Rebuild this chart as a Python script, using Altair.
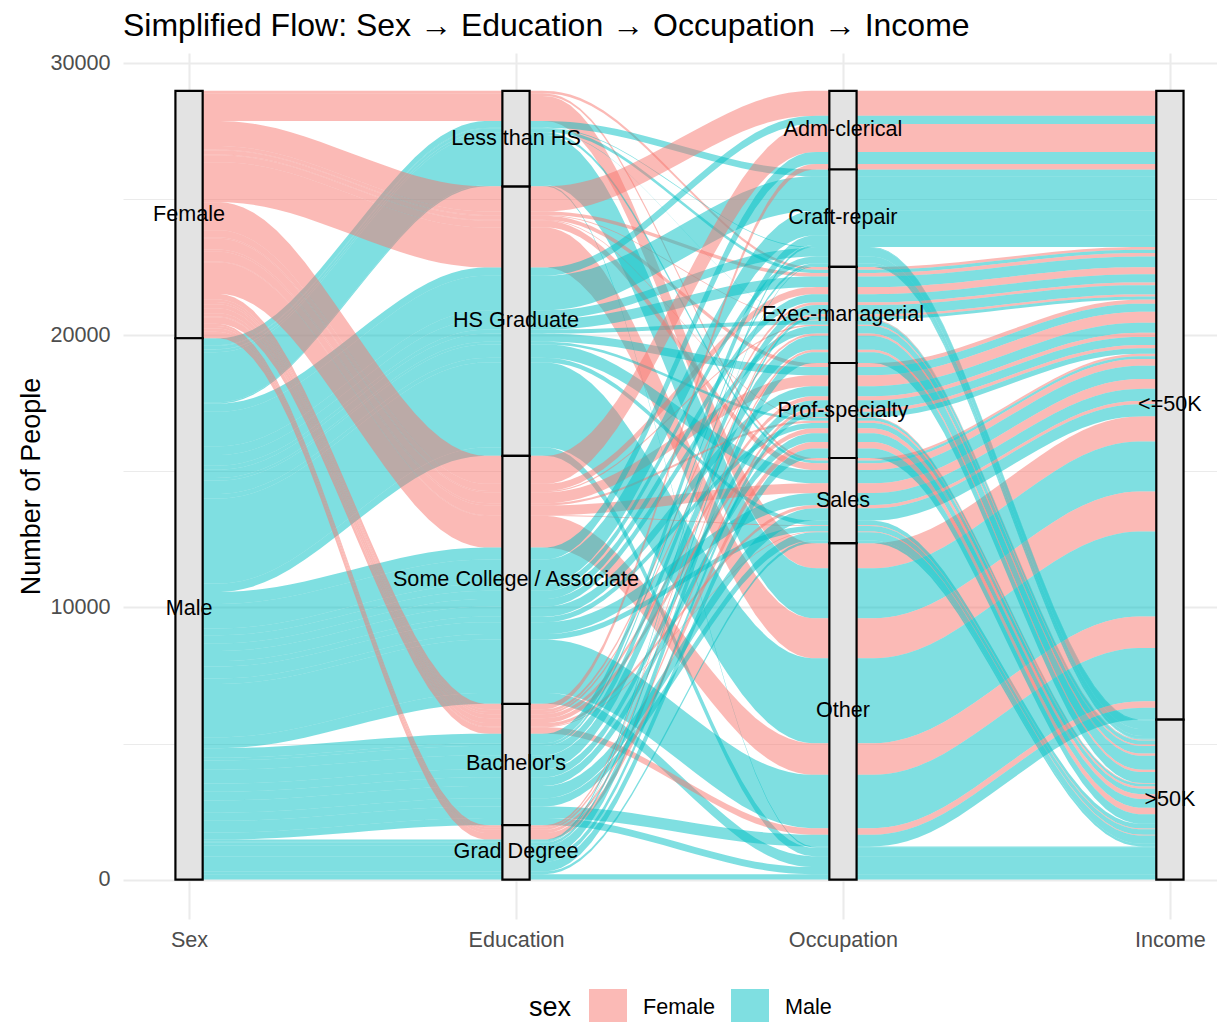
import json
import altair as alt
import numpy as np
import pandas as pd

TITLE = "Simplified Flow: Sex \u2192 Education \u2192 Occupation \u2192 Income"
AXES = ["Sex", "Education", "Occupation", "Income"]
SEX = ["Female", "Male"]
EDUCATION = ["Less than HS", "HS Graduate", "Some College / Associate", "Bachelor's", "Grad Degree"]
OCCUPATION = ["Adm-clerical", "Craft-repair", "Exec-managerial", "Prof-specialty", "Sales", "Other"]
INCOME = ["<=50K", ">50K"]
SEX_COLORS = ["#F8766D", "#00BFC4"]
Y_TICKS = [0, 5000, 10000, 15000, 20000, 25000, 30000]

# Number of people per occupation x income, in the order
# Adm-clerical <=50K, >50K, Craft-repair <=50K, >50K, Exec-managerial <=50K, >50K,
# Prof-specialty <=50K, >50K, Sales <=50K, >50K, Other <=50K, >50K
less_hs_female = [0, 0, 0, 0, 100, 0, 0, 0, 90, 0, 920, 0]
less_hs_male = [0, 0, 250, 30, 120, 10, 0, 0, 100, 0, 1840, 50]
hs_grad_female = [920, 0, 0, 0, 130, 30, 150, 30, 250, 0, 1470, 0]
hs_grad_male = [300, 0, 1270, 320, 390, 150, 300, 100, 490, 170, 3120, 310]
some_college_female = [1030, 0, 0, 0, 260, 50, 400, 80, 360, 30, 1160, 0]
some_college_male = [440, 0, 900, 250, 300, 280, 370, 200, 440, 200, 1960, 400]
bachelors_female = [200, 0, 0, 0, 100, 80, 150, 180, 120, 30, 240, 0]
bachelors_male = [0, 0, 350, 100, 340, 510, 300, 320, 450, 300, 430, 260]
grad_female = [0, 0, 0, 0, 80, 90, 120, 240, 0, 0, 0, 0]
grad_male = [0, 0, 80, 30, 110, 400, 200, 350, 0, 100, 0, 200]

COUNTS = {
    ("Less than HS", "Female"): less_hs_female,
    ("Less than HS", "Male"): less_hs_male,
    ("HS Graduate", "Female"): hs_grad_female,
    ("HS Graduate", "Male"): hs_grad_male,
    ("Some College / Associate", "Female"): some_college_female,
    ("Some College / Associate", "Male"): some_college_male,
    ("Bachelor's", "Female"): bachelors_female,
    ("Bachelor's", "Male"): bachelors_male,
    ("Grad Degree", "Female"): grad_female,
    ("Grad Degree", "Male"): grad_male,
}

FONT = "Liberation Sans"
STRATUM_WIDTH = 1 / 12

# ---- alluvial layout (ggalluvial-like: zigzag lode guidance, first level on top)
rows = []
for (edu, sex), vals in COUNTS.items():
    for k, n in enumerate(vals):
        if n > 0:
            rows.append({"Sex": sex, "Education": edu, "Occupation": OCCUPATION[k // 2],
                         "Income": INCOME[k % 2], "n": n})
df = pd.DataFrame(rows)
levels = {"Sex": SEX, "Education": EDUCATION, "Occupation": OCCUPATION, "Income": INCOME}
for a in AXES:
    df[a + "_i"] = df[a].map({v: i for i, v in enumerate(levels[a])})
total = df["n"].sum()
ZIGZAG = [[0, 1, 2, 3], [1, 0, 2, 3], [2, 3, 1, 0], [3, 2, 1, 0]]
for ai in range(4):
    keys = [AXES[j] + "_i" for j in ZIGZAG[ai]]
    d = df.sort_values(keys)
    cum = d["n"].cumsum()
    df.loc[d.index, f"top{ai}"] = total - cum + d["n"]
    df.loc[d.index, f"bot{ai}"] = total - cum


def bspline(ctrl, per=8):
    out = []
    for i in range(len(ctrl) - 3):
        P = ctrl[i:i + 4]
        for u in np.linspace(0, 1, per, endpoint=False):
            b = np.array([(1 - u) ** 3, 3 * u ** 3 - 6 * u ** 2 + 4,
                          -3 * u ** 3 + 3 * u ** 2 + 3 * u + 1, u ** 3]) / 6
            out.append(b @ P)
    out.append(ctrl[-1])
    return np.array(out)


ctrl = np.array([[0, 0], [0, 0], [0, 0], [0.25, 0], [0.75, 1], [1, 1], [1, 1], [1, 1]], dtype=float)
shape = bspline(ctrl)
xs, ss = shape[:, 0], shape[:, 1]

rib = []
for idx, r in df.iterrows():
    for ai in range(3):
        x0 = ai + 1 + STRATUM_WIDTH / 2
        x1 = ai + 2 - STRATUM_WIDTH / 2
        t0, t1 = r[f"top{ai}"], r[f"top{ai + 1}"]
        b0, b1 = r[f"bot{ai}"], r[f"bot{ai + 1}"]
        for xv, sv in zip(xs, ss):
            rib.append({"seg": f"{idx}-{ai}", "sex": r["Sex"], "x": x0 + (x1 - x0) * xv,
                        "y_top": t0 + (t1 - t0) * sv, "y_bot": b0 + (b1 - b0) * sv})
ribbons = pd.DataFrame(rib)

strata = []
for ai, a in enumerate(AXES):
    g = df.groupby(a).agg(ymin=(f"bot{ai}", "min"), ymax=(f"top{ai}", "max")).reset_index()
    for _, r in g.iterrows():
        strata.append({"label": r[a], "xc": ai + 1, "x1": ai + 1 - STRATUM_WIDTH / 2,
                       "x2": ai + 1 + STRATUM_WIDTH / 2, "ymin": r["ymin"], "ymax": r["ymax"],
                       "ymid": (r["ymin"] + r["ymax"]) / 2})
strata = pd.DataFrame(strata)

# ---- scales / axes
xscale = alt.Scale(domain=[0.798, 4.144], nice=False, zero=False)
yscale = alt.Scale(domain=[-1447, 30370], nice=False, zero=False)
xaxis = alt.Axis(values=[1, 2, 3, 4], labelExpr=f"{json.dumps(AXES)}[datum.value - 1]",
                 title=None, grid=True, gridColor="#ebebeb", gridWidth=2.1, ticks=False,
                 tickSize=0, domain=False, labelFontSize=21.6, labelColor="#4d4d4d",
                 labelFont=FONT, labelPadding=10)
yaxis = alt.Axis(values=Y_TICKS, format="d",
                 labelExpr="datum.value % 10000 === 0 ? datum.label : ''",
                 title="Number of People", grid=True, gridColor="#ebebeb",
                 gridWidth={"condition": {"test": "datum.value % 10000 === 0", "value": 2.1}, "value": 1.0},
                 ticks=False, tickSize=0, domain=False, labelFontSize=21.6, labelColor="#4d4d4d",
                 labelFont=FONT, labelPadding=13, titleFontSize=27, titleFont=FONT,
                 titleFontWeight="normal", titleColor="black", titlePadding=4)


def X(field):
    return alt.X(field, type="quantitative", scale=xscale, axis=xaxis)


def Y(field):
    return alt.Y(field, type="quantitative", scale=yscale, axis=yaxis, stack=None)


flows = alt.Chart(ribbons).mark_area(opacity=0.5, strokeWidth=0, interpolate="linear").encode(
    x=X("x"),
    y=Y("y_top"),
    y2="y_bot",
    color=alt.Color("sex:N", scale=alt.Scale(domain=SEX, range=SEX_COLORS),
                    legend=alt.Legend(orient="none", legendX=406, legendY=936,
                                      direction="horizontal", title="sex", titleOrient="left",
                                      titleFontSize=27, titleFont=FONT, titleFontWeight="normal",
                                      titleColor="black", labelFontSize=21.6, labelFont=FONT,
                                      labelColor="black", symbolType="square", symbolSize=1444,
                                      symbolOpacity=0.5, symbolStrokeWidth=0, labelOffset=16,
                                      columnPadding=15, titlePadding=17)),
    detail="seg:N",
)

boxes = alt.Chart(strata).mark_rect(fill="#e3e3e3", stroke="black", strokeWidth=2.2).encode(
    x=X("x1"), x2="x2", y=Y("ymin"), y2="ymax"
)

labels = alt.Chart(strata).mark_text(fontSize=21.6, font=FONT, color="black",
                                     align="center", baseline="middle").encode(
    x=X("xc"), y=Y("ymid"), text="label:N"
)

chart = alt.layer(flows, boxes, labels).properties(
    width=1094, height=866,
    title=alt.TitleParams(TITLE, anchor="start", frame="group", fontSize=32, font=FONT,
                          fontWeight="normal", color="black", offset=9),
    autosize=alt.AutoSizeParams(type="none"),
    padding={"left": 115, "top": 45, "right": 0, "bottom": 103},
).configure_view(stroke="transparent")

chart.save("out.html", embed_options={"renderer": "svg", "actions": False})
